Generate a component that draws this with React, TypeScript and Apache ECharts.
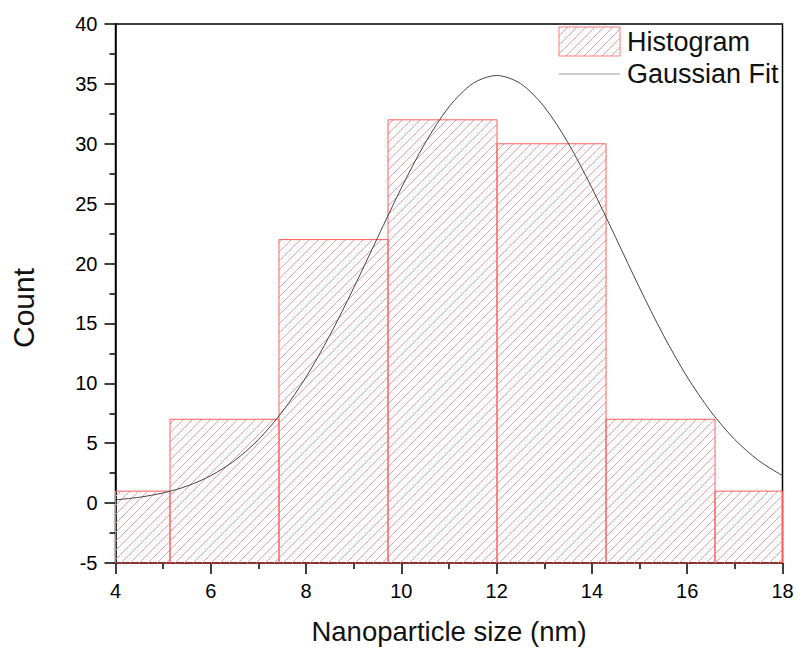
import { useEffect, useRef } from "react";
import * as echarts from "echarts";

// Histogram bins: left edge of each bin, common width, and count per bin
const binStarts = [2.856, 5.144, 7.432, 9.72, 12.008, 14.296, 16.584];
const binWidth = 2.288;
const counts = [1, 7, 22, 32, 30, 7, 1];

// Gaussian fit curve samples
const fitX = [
  4, 4.5, 5, 5.5, 6, 6.5, 7, 7.5, 8, 8.5, 9, 9.5, 10, 10.5, 11, 11.5, 12,
  12.5, 13, 13.5, 14, 14.5, 15, 15.5, 16, 16.5, 17, 17.5, 18,
];
const fitY = [
  0.27, 0.49, 0.85, 1.42, 2.29, 3.55, 5.3, 7.62, 10.53, 14.02, 17.97, 22.16,
  26.31, 30.07, 33.08, 35.03, 35.7, 35.03, 33.08, 30.07, 26.31, 22.16, 17.97,
  14.02, 10.53, 7.62, 5.3, 3.55, 2.29,
];

// Axis ranges
const xMin = 4;
const xMax = 18;
const xStep = 2;
const yMin = -5;
const yMax = 40;
const yStep = 5;

const FONT = "Arial, 'Liberation Sans', sans-serif";
const BAR_EDGE = "#ff5c5c";
const HATCH = "#ffa0a0";

function makeHatch(size: number, color: string) {
  const c = document.createElement("canvas");
  c.width = size;
  c.height = size;
  const ctx = c.getContext("2d")!;
  ctx.strokeStyle = color;
  ctx.lineWidth = 1;
  for (const o of [-size, 0, size]) {
    ctx.beginPath();
    ctx.moveTo(o - 1, size + 1);
    ctx.lineTo(o + size + 1, -1);
    ctx.stroke();
  }
  return {
    image: c,
    repeat: "repeat",
    imageWidth: size,
    imageHeight: size,
  } as any;
}

export default function App() {
  const ref = useRef<HTMLDivElement>(null);

  useEffect(() => {
    if (!ref.current) return;
    const chart = echarts.init(ref.current, undefined, { renderer: "svg" });
    const hatch = makeHatch(9, HATCH);

    const histData = binStarts.map((s, i) => [s, s + binWidth, counts[i]]);
    const fitData = fitX.map((x, i) => [x, fitY[i]]);

    const axisText = { fontFamily: FONT, fontSize: 20, color: "#000" };

    chart.setOption({
      animation: false,
      backgroundColor: "#fff",
      grid: {
        left: 115.5,
        right: 14.5,
        top: 24,
        bottom: 85,
        show: true,
        borderColor: "#000",
        borderWidth: 1.5,
        backgroundColor: "transparent",
      },
      legend: {
        orient: "vertical",
        left: 558.5,
        top: 26.5,
        padding: 0,
        itemWidth: 61,
        itemHeight: 29,
        itemGap: 4,
        selectedMode: false,
        textStyle: { fontFamily: FONT, fontSize: 27, color: "#111", padding: [0, 0, 0, 2] },
        data: [
          {
            name: "Histogram",
            icon: "rect",
            itemStyle: { borderColor: "#ff7a7a", borderWidth: 1 },
          },
          {
            name: "Gaussian Fit",
            itemStyle: { opacity: 0 },
            lineStyle: { color: "#999", width: 1 },
          },
        ],
      },
      xAxis: {
        type: "value",
        min: xMin,
        max: xMax,
        interval: xStep,
        name: "Nanoparticle size (nm)",
        nameLocation: "middle",
        nameGap: 54,
        nameTextStyle: { fontFamily: FONT, fontSize: 27.5, color: "#111" },
        axisLine: { show: true, onZero: false, lineStyle: { color: "#000", width: 1.5 } },
        axisTick: { show: true, inside: false, length: 11, lineStyle: { color: "#000", width: 1.5 } },
        minorTick: { show: true, splitNumber: 2, length: 6, lineStyle: { color: "#000", width: 1.5 } },
        axisLabel: { ...axisText, margin: 18 },
        splitLine: { show: false },
      },
      yAxis: {
        type: "value",
        min: yMin,
        max: yMax,
        interval: yStep,
        axisLine: { show: true, onZero: false, lineStyle: { color: "#000", width: 1.5 } },
        axisTick: { show: true, inside: false, length: 11, lineStyle: { color: "#000", width: 1.5 } },
        minorTick: { show: true, splitNumber: 2, length: 6, lineStyle: { color: "#000", width: 1.5 } },
        axisLabel: { ...axisText, margin: 18 },
        splitLine: { show: false },
      },
      graphic: [
        {
          type: "text",
          x: 23,
          y: 308,
          rotation: Math.PI / 2,
          style: {
            text: "Count",
            font: `30px ${FONT}`,
            fill: "#111",
            align: "center",
            verticalAlign: "middle",
          },
        },
      ],
      series: [
        {
          type: "custom",
          name: "Histogram",
          data: histData,
          encode: { x: [0, 1], y: 2 },
          itemStyle: { color: hatch, borderColor: BAR_EDGE, borderWidth: 1 },
          z: 2,
          renderItem: (params: any, api: any) => {
            const p0 = api.coord([api.value(0), api.value(2)]);
            const p1 = api.coord([api.value(1), yMin]);
            const rect = echarts.graphic.clipRectByRect(
              { x: p0[0], y: p0[1], width: p1[0] - p0[0], height: p1[1] - p0[1] },
              params.coordSys
            );
            if (!rect) return null;
            return {
              type: "rect",
              shape: rect,
              style: { fill: hatch, stroke: BAR_EDGE, lineWidth: 1 },
            };
          },
        },
        {
          type: "line",
          name: "Gaussian Fit",
          data: fitData,
          smooth: 0.3,
          symbol: "none",
          showSymbol: false,
          z: 3,
          lineStyle: { color: "#444", width: 1 },
          itemStyle: { color: "#444" },
        },
      ],
    });

    return () => chart.dispose();
  }, []);

  return (
    <div
      ref={ref}
      style={{ position: "absolute", left: 0, top: 0, width: 797, height: 650 }}
    />
  );
}
